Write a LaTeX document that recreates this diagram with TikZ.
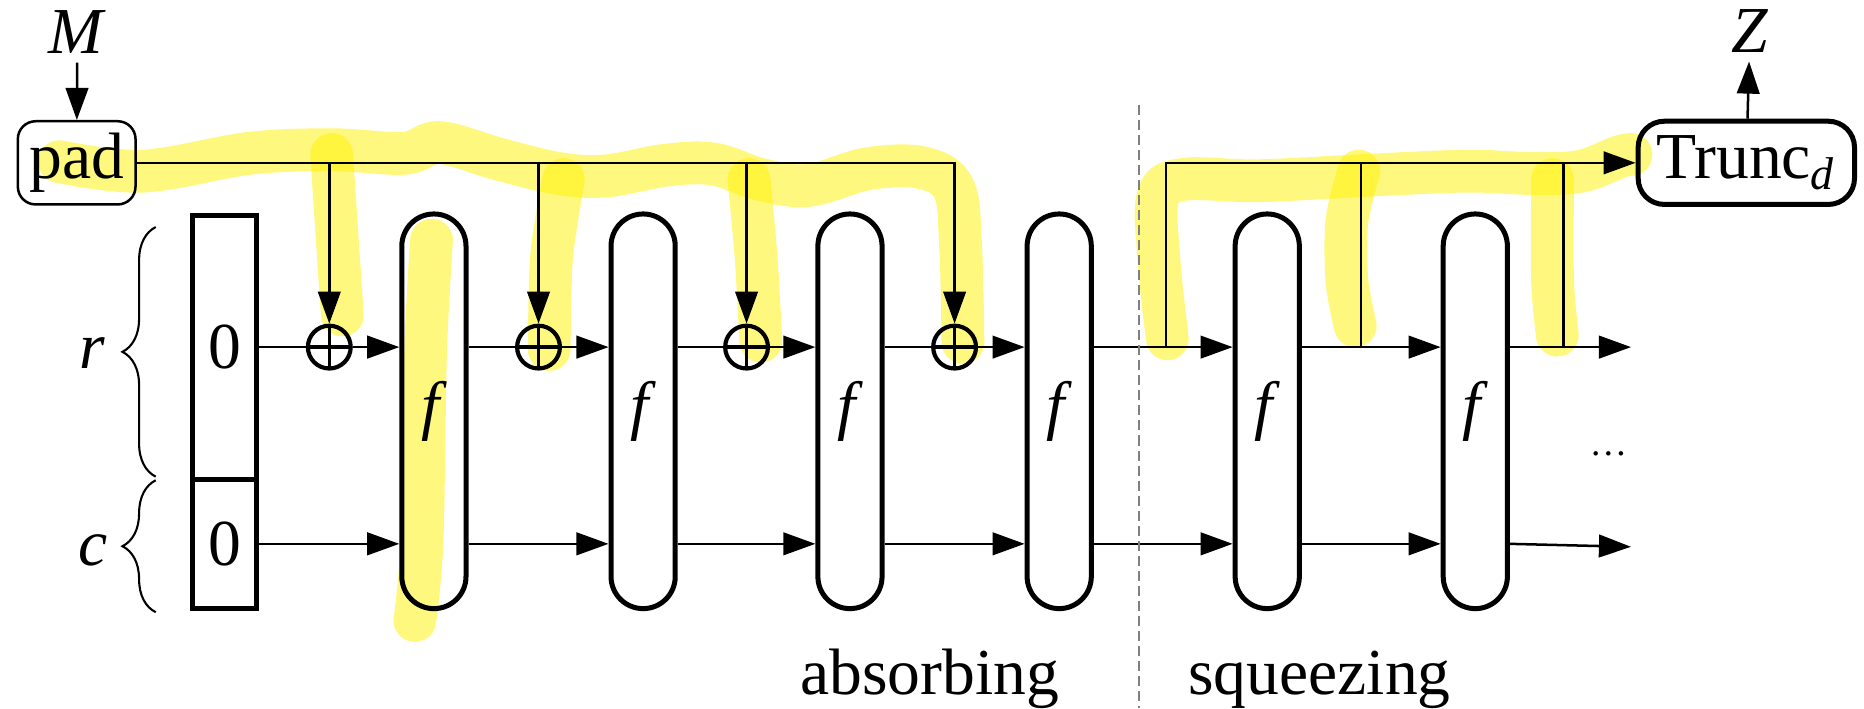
\documentclass[tikz,border=0pt]{standalone}
\usepackage{fontspec}
\setmainfont{Liberation Serif}
\usetikzlibrary{arrows.meta,decorations.pathreplacing}

\tikzset{
  conn/.style = {line width=0.6pt},
  arr/.style = {conn, -{Triangle[length=2.7mm, width=1.9mm]}},
  perm/.style = {draw, line width=1.2pt, minimum width=0.54cm, minimum height=3.32cm, rounded corners=0.27cm, inner sep=0pt},
  statebox/.style = {draw, line width=1.2pt, minimum width=0.54cm, inner sep=0pt},
  xorop/.style = {draw, circle, line width=1pt, minimum size=0.36cm, inner sep=0pt,
    path picture={\draw [line width=0.8pt] (path picture bounding box.north) -- (path picture bounding box.south)
      (path picture bounding box.west) -- (path picture bounding box.east);}},
  padbox/.style = {draw, line width=0.6pt, rounded corners=0.15cm, minimum width=0.99cm, minimum height=0.70cm, inner sep=0pt},
  truncbox/.style = {draw, line width=1.2pt, rounded corners=0.22cm, minimum width=1.82cm, minimum height=0.70cm, inner sep=0pt},
  highlight/.style = {yellow, opacity=0.5, line width=0.36cm, line cap=round, line join=round},
  brace/.style = {decorate, decoration={brace, amplitude=0.28cm}, line width=0.5pt},
  phase/.style = {anchor=base},
}

\begin{document}
\begin{tikzpicture}[font=\fontsize{15.7}{18}\selectfont]
%\draw [help lines] (0,0) grid (16, 6);
\useasboundingbox (0,0) rectangle (15.68,5.96);

% highlighter
\draw [highlight] plot [smooth, tension=0.6] coordinates {(0.50,4.60) (1.20,4.52) (2.10,4.67) (2.80,4.70) (3.40,4.67) (3.70,4.76) (4.20,4.62) (4.70,4.50) (5.10,4.48) (5.60,4.57) (6.00,4.58) (6.40,4.45) (6.80,4.40) (7.30,4.54) (7.75,4.55) (8.02,4.38) (8.08,3.90) (8.10,3.08)};
\draw [highlight] plot [smooth] coordinates {(2.79,4.66) (2.84,3.90) (2.88,3.31)};
\draw [highlight] plot [smooth] coordinates {(4.74,4.45) (4.64,3.80) (4.62,3.02)};
\draw [highlight] plot [smooth] coordinates {(6.30,4.45) (6.36,3.80) (6.40,3.09)};
\draw [highlight] plot [smooth] coordinates {(3.63,3.94) (3.58,3.00) (3.55,1.40) (3.49,0.74)};
\draw [highlight] plot [smooth, tension=0.6] coordinates {(9.82,3.11) (9.75,3.76) (9.74,4.30) (9.95,4.45) (10.60,4.44) (11.60,4.49) (12.35,4.52) (12.90,4.50) (13.30,4.52) (13.62,4.64) (13.72,4.66)};
\draw [highlight] plot [smooth] coordinates {(11.43,4.52) (11.33,4.10) (11.33,3.60) (11.40,3.22)};
\draw [highlight] plot [smooth] coordinates {(13.06,4.45) (13.06,3.60) (13.10,3.14)};

% input and output
\node [inner sep=2pt] (M) at (0.65,5.69) {\textit{M}};
\node [padbox] (pad) at (0.645,4.59) {pad};
\node [inner sep=2pt] (Z) at (14.72,5.70) {\textit{Z}};
\node [truncbox] (trunc) at (14.69,4.59) {Trunc\textsubscript{\textit{d}}};

% state
\node [statebox, minimum height=2.22cm] (zr) at (1.89,3.04) {0};
\node [statebox, minimum height=1.09cm] (zc) at (1.89,1.385) {0};

\draw [brace] (1.31,1.95) -- (1.31,4.05);
\draw [brace] (1.31,0.81) -- (1.31,1.92);
\node (rlab) at (0.78,2.99) {\textit{r}};
\node (clab) at (0.78,1.33) {\textit{c}};

% xor
\node [xorop] (x1) at (2.77,3.04) {};
\node [xorop] (x2) at (4.53,3.04) {};
\node [xorop] (x3) at (6.28,3.04) {};
\node [xorop] (x4) at (8.03,3.04) {};

% permutations
\node [perm] (f1) at (3.65,2.50) {\textit{f}};
\node [perm] (f2) at (5.41,2.50) {\textit{f}};
\node [perm] (f3) at (7.15,2.50) {\textit{f}};
\node [perm] (f4) at (8.91,2.50) {\textit{f}};
\node [perm] (f5) at (10.66,2.50) {\textit{f}};
\node [perm] (f6) at (12.41,2.50) {\textit{f}};

\coordinate (s1) at (9.81,3.04);
\coordinate (s2) at (11.45,3.04);
\coordinate (s3) at (13.15,3.04);
\coordinate (rout) at (13.72,3.04);
\coordinate (cout) at (13.72,1.36);
\coordinate (dtop) at (9.58,5.08);
\coordinate (dbot) at (9.58,0);

\draw [arr] (M) -- (pad);
\draw [arr] (trunc) -- (Z);

% absorbing
\draw [arr] (pad.east) -| (x4.north);
\draw [arr] (pad.east -| x1) -- (x1.north);
\draw [arr] (pad.east -| x2) -- (x2.north);
\draw [arr] (pad.east -| x3) -- (x3.north);

\draw [conn] (zr.east) -- (x1.west);
\draw [arr] (x1.east) -- (f1.west |- x1);
\draw [conn] (f1.east |- x1) -- (x2.west);
\draw [arr] (x2.east) -- (f2.west |- x2);
\draw [conn] (f2.east |- x2) -- (x3.west);
\draw [arr] (x3.east) -- (f3.west |- x3);
\draw [conn] (f3.east |- x3) -- (x4.west);
\draw [arr] (x4.east) -- (f4.west |- x4);
\draw [arr] (f4.east |- x4) -- (f5.west |- x4);
\draw [arr] (f5.east |- x4) -- (f6.west |- x4);
\draw [arr] (f6.east |- x4) -- (rout);

\draw [arr] (zc.east) -- (f1.west |- zc);
\draw [arr] (f1.east |- zc) -- (f2.west |- zc);
\draw [arr] (f2.east |- zc) -- (f3.west |- zc);
\draw [arr] (f3.east |- zc) -- (f4.west |- zc);
\draw [arr] (f4.east |- zc) -- (f5.west |- zc);
\draw [arr] (f5.east |- zc) -- (f6.west |- zc);
\draw [arr] (f6.east |- zc) -- (cout);

% squeezing
\draw [arr] (s1) |- (trunc.west);
\draw [conn] (s2) -- (s2 |- trunc.west);
\draw [conn] (s3) -- (s3 |- trunc.west);

\draw [gray, line width=0.4pt, dash pattern=on 2.4pt off 1.2pt] (dtop) -- (dbot);

\node [phase] (absorb) at (7.82,0.12) {absorbing};
\node [phase] (squeeze) at (11.10,0.12) {squeezing};
\node [anchor=base, font=\fontsize{9}{10}\selectfont] (more) at (13.53,2.13) {…};

\end{tikzpicture}
\end{document}
